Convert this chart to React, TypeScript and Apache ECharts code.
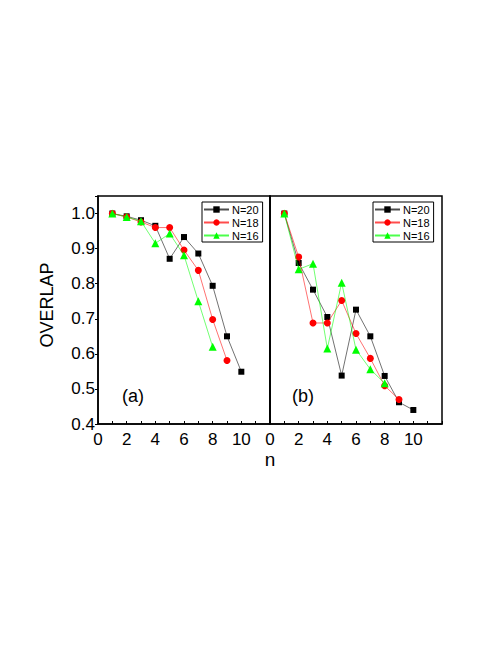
import React, { useEffect, useRef } from "react";
import * as echarts from "echarts";

const nValues = [1, 2, 3, 4, 5, 6, 7, 8, 9, 10];
const seriesNames = ["N=20", "N=18", "N=16"];
const seriesColors = ["#000000", "#ff0000", "#00ff00"];
const seriesSymbols = ["rect", "circle", "triangle"];
const seriesSymbolSizes = [6, 7, 8];

// panel (a)
const leftN20 = [1.0, 0.992, 0.981, 0.965, 0.871, 0.933, 0.886, 0.794, 0.65, 0.549];
const leftN18 = [1.0, 0.99, 0.976, 0.96, 0.96, 0.896, 0.838, 0.698, 0.581];
const leftN16 = [1.0, 0.99, 0.978, 0.915, 0.943, 0.881, 0.75, 0.62];
// panel (b)
const rightN20 = [1.0, 0.859, 0.783, 0.705, 0.538, 0.726, 0.65, 0.537, 0.462, 0.44];
const rightN18 = [1.0, 0.876, 0.688, 0.688, 0.752, 0.658, 0.587, 0.509, 0.47];
const rightN16 = [1.0, 0.841, 0.857, 0.615, 0.803, 0.612, 0.556, 0.516];

const xTickLabels = ["0", "2", "4", "6", "8", "10"];
const yTickLabels = ["0.4", "0.5", "0.6", "0.7", "0.8", "0.9", "1.0"];

const FONT = "'Liberation Sans', Arial, sans-serif";

function pairs(vals: number[]) {
  return vals.map((v, i) => [nValues[i], v]);
}

export default function App() {
  const ref = useRef<HTMLDivElement>(null);
  useEffect(() => {
    if (!ref.current) return;
    const chart = echarts.init(ref.current, undefined, { renderer: "svg" });

    const xAxisBase = (gridIndex: number) => ({
      type: "value",
      gridIndex,
      min: 0,
      max: 12,
      interval: 1,
      axisLine: { show: true, onZero: false, lineStyle: { color: "#000", width: 1.5 } },
      axisTick: { show: true, inside: true, length: 3, lineStyle: { color: "#000", width: 1 } },
      axisLabel: {
        color: "#000",
        fontSize: 17,
        fontFamily: FONT,
        margin: 7,
        showMaxLabel: true,
        formatter: (v: number) => {
          const s = String(Math.round(v));
          return Math.abs(v - Math.round(v)) < 1e-6 && xTickLabels.includes(s) ? s : "";
        },
      },
      splitLine: { show: false },
    });

    const yLabelFmt = (v: number) => {
      const s = v.toFixed(1);
      return Math.abs(v * 10 - Math.round(v * 10)) < 1e-6 && yTickLabels.includes(s) ? s : "";
    };

    const lineSeries = (name: string, idx: number, vals: number[], axisIndex: number) => ({
      type: "line",
      name,
      xAxisIndex: axisIndex,
      yAxisIndex: axisIndex,
      data: pairs(vals),
      symbol: seriesSymbols[idx],
      symbolSize: seriesSymbolSizes[idx],
      showAllSymbol: true,
      itemStyle: { color: seriesColors[idx] },
      lineStyle: { color: seriesColors[idx], width: 0.8, opacity: 0.7 },
      z: 2 + idx,
    });

    const legendBase = (left: number) => ({
      orient: "vertical",
      left,
      top: 202,
      itemWidth: 25,
      itemHeight: 8,
      itemGap: 2,
      padding: [2, 4, 1, 1],
      borderColor: "#000",
      borderWidth: 1,
      backgroundColor: "#fff",
      selectedMode: false,
      data: seriesNames,
      textStyle: { color: "#000", fontSize: 11, fontFamily: FONT, lineHeight: 11, padding: [0, 0, 0, -2] },
    });

    const option: any = {
      animation: false,
      backgroundColor: "#fff",
      grid: [
        { left: 98, top: 196, width: 172, height: 228, show: true, borderColor: "#000", borderWidth: 1.5, backgroundColor: "transparent" },
        { left: 270, top: 196, width: 172, height: 228, show: true, borderColor: "#000", borderWidth: 1.5, backgroundColor: "transparent" },
      ],
      xAxis: [xAxisBase(0), xAxisBase(1)],
      yAxis: [
        {
          type: "value",
          gridIndex: 0,
          min: 0.4,
          max: 1.05,
          interval: 0.1,
          axisLine: { show: true, lineStyle: { color: "#000", width: 1.5 } },
          axisTick: { show: true, inside: false, length: 3, lineStyle: { color: "#000", width: 1 } },
          axisLabel: { color: "#000", fontSize: 17, fontFamily: FONT, margin: 3, formatter: yLabelFmt },
          splitLine: { show: false },
        },
        {
          type: "value",
          gridIndex: 1,
          min: 0.4,
          max: 1.05,
          interval: 0.1,
          axisLine: { show: true, lineStyle: { color: "#000", width: 1.5 } },
          axisTick: { show: false },
          axisLabel: { show: false },
          splitLine: { show: false },
        },
      ],
      legend: [legendBase(202), legendBase(373)],
      series: [
        lineSeries(seriesNames[0], 0, leftN20, 0),
        lineSeries(seriesNames[1], 1, leftN18, 0),
        lineSeries(seriesNames[2], 2, leftN16, 0),
        lineSeries(seriesNames[0], 0, rightN20, 1),
        lineSeries(seriesNames[1], 1, rightN18, 1),
        lineSeries(seriesNames[2], 2, rightN16, 1),
      ],
      graphic: [
        {
          type: "text",
          x: 47,
          y: 305,
          rotation: Math.PI / 2,
          style: { text: "OVERLAP", fill: "#000", fontSize: 18, fontFamily: FONT, textAlign: "center", textVerticalAlign: "middle" },
        },
        {
          type: "text",
          x: 270,
          y: 459,
          style: { text: "n", fill: "#000", fontSize: 19, fontFamily: FONT, textAlign: "center", textVerticalAlign: "middle" },
        },
        {
          type: "text",
          x: 133,
          y: 396,
          style: { text: "(a)", fill: "#000", fontSize: 18, fontFamily: FONT, textAlign: "center", textVerticalAlign: "middle" },
        },
        {
          type: "text",
          x: 303,
          y: 396,
          style: { text: "(b)", fill: "#000", fontSize: 18, fontFamily: FONT, textAlign: "center", textVerticalAlign: "middle" },
        },
      ],
    };
    chart.setOption(option);
    return () => chart.dispose();
  }, []);

  return (
    <div
      ref={ref}
      style={{ position: "fixed", left: 0, top: 0, width: 491, height: 654, background: "#fff" }}
    />
  );
}
